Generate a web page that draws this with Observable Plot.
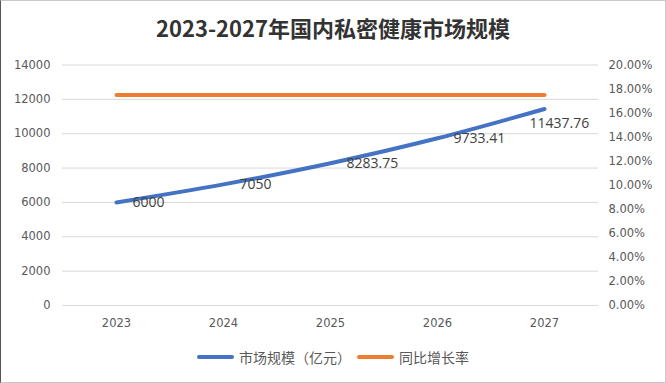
<!DOCTYPE html>
<html>
<head>
<meta charset="utf-8">
<script src="https://cdn.jsdelivr.net/npm/d3@7"></script>
<script src="https://cdn.jsdelivr.net/npm/@observablehq/plot@0.6"></script>
<style>
  html, body { margin: 0; padding: 0; background: #fff; }
  #wrap { position: relative; width: 666px; height: 383px; overflow: hidden; background: #fff; }
  #title { position: absolute; top: 0; left: 0; width: 666px; height: 55px; line-height: 55px; text-align: center; font-family: "Noto Sans CJK SC", sans-serif; font-weight: bold; font-size: 22px; color: #333; }
  #chart { position: absolute; top: 50px; left: 0; }
  #legend { position: absolute; top: 340px; left: 0; width: 666px; height: 34px; display: flex; justify-content: center; align-items: center; font-family: "Noto Sans CJK SC", sans-serif; font-size: 14px; color: #595959; }
  .item { display: flex; align-items: center; margin: 0 3px; }
  .sw { display: inline-block; width: 37px; height: 4px; border-radius: 2px; margin-right: 5px; }
  #frame { position: absolute; left: 0; top: 0; width: 666px; height: 383px; box-sizing: border-box; border: 1px solid #c8c8c8; border-left-color: #555; pointer-events: none; }
</style>
</head>
<body>
<div id="wrap">
  <div id="title">2023-2027年国内私密健康市场规模</div>
  <div id="chart"></div>
  <div id="legend"></div>
  <div id="frame"></div>
</div>
<script>
const years = ["2023", "2024", "2025", "2026", "2027"];
const marketSize = [6000, 7050, 8283.75, 9733.41, 11437.76];
const growthRate = [0.175, 0.175, 0.175, 0.175, 0.175];
const leftTicks = [0, 2000, 4000, 6000, 8000, 10000, 12000, 14000];
const rightTicks = [0, 0.02, 0.04, 0.06, 0.08, 0.10, 0.12, 0.14, 0.16, 0.18, 0.20];
const seriesNames = ["市场规模（亿元）", "同比增长率"];
const colors = ["#4472C4", "#ED7D31"];

const leftMax = 14000, rightMax = 0.20;
const toLeft = p => p / rightMax * leftMax;

const rows = years.map((y, i) => ({year: y, size: marketSize[i], growth: growthRate[i]}));
const first = rows.slice(0, rows.length - 1);
const last = rows.slice(rows.length - 1);

const chart = Plot.plot({
  width: 666,
  height: 290,
  marginTop: 14.5,
  marginBottom: 35,
  marginLeft: 62,
  marginRight: 68,
  style: {fontFamily: "DejaVu Sans, sans-serif", fontSize: "11.5px", color: "#595959", background: "transparent"},
  x: {type: "point", domain: years, padding: 0.5, label: null},
  y: {domain: [0, leftMax], label: null},
  marks: [
    Plot.gridY(leftTicks, {stroke: "#d9d9d9", strokeOpacity: 1}),
    Plot.axisY(leftTicks, {anchor: "left", tickSize: 0, tickPadding: 12, fill: "#595959", label: null, tickFormat: d => String(d)}),
    Plot.axisY(rightTicks.map(toLeft), {anchor: "right", tickSize: 0, tickPadding: 10, fill: "#595959", label: null,
      tickFormat: v => (v / leftMax * rightMax * 100).toFixed(2) + "%"}),
    Plot.axisX(years, {anchor: "bottom", tickSize: 0, tickPadding: 13, fill: "#595959", label: null}),
    Plot.line(rows, {x: "year", y: d => toLeft(d.growth), stroke: colors[1], strokeWidth: 4, strokeLinecap: "round"}),
    Plot.line(rows, {x: "year", y: "size", stroke: colors[0], strokeWidth: 4, curve: "catmull-rom", strokeLinecap: "round"}),
    Plot.text(first, {x: "year", y: "size", text: d => String(d.size), textAnchor: "start", dx: 16, fontSize: 14, fill: "#404040", fontFamily: "Open Sans, sans-serif"}),
    Plot.text(last, {x: "year", y: "size", text: d => String(d.size), textAnchor: "start", dx: -15, dy: 14, fontSize: 14, fill: "#404040", fontFamily: "Open Sans, sans-serif"})
  ]
});
document.getElementById("chart").appendChild(chart);

const legend = document.getElementById("legend");
seriesNames.forEach((name, i) => {
  const item = document.createElement("div");
  item.className = "item";
  const sw = document.createElement("span");
  sw.className = "sw";
  sw.style.background = colors[i];
  const label = document.createElement("span");
  label.textContent = name;
  item.appendChild(sw);
  item.appendChild(label);
  legend.appendChild(item);
});
</script>
</body>
</html>
